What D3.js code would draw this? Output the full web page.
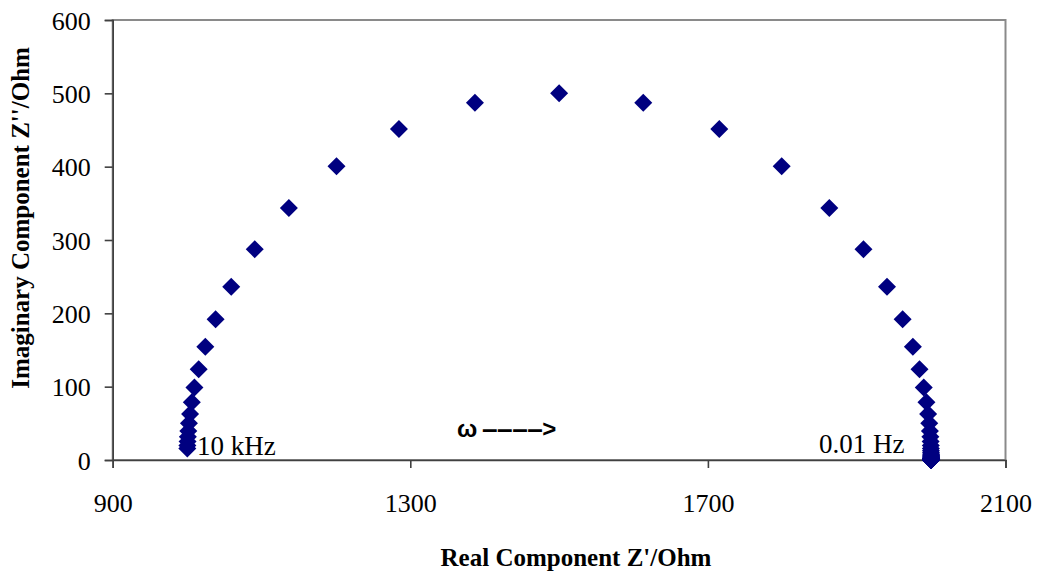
<!DOCTYPE html>
<html>
    <head>
        <meta charset="utf-8">
        <title>Nyquist Plot</title>
        <script src="https://cdn.jsdelivr.net/npm/d3@7"></script>
        <style>
            body { margin: 0; background: #fff; }
            text { font-family: "Liberation Serif", "Times New Roman", serif; }
        </style>
    </head>
    <body>
        <script>
            // real / imaginary impedance (10 kHz -> 0.01 Hz)
            var zReal = [1000.3, 1000.4, 1000.6, 1001.0, 1001.6, 1002.5, 1004.0, 1006.3, 1009.9, 1015.6,
                         1024.5, 1038.3, 1059.3, 1090.9, 1136.8, 1200.8, 1284.7, 1386.9, 1500.0,
                         1613.1, 1715.3, 1799.2, 1863.2, 1909.1, 1940.7, 1961.7, 1975.5, 1984.4, 1990.1,
                         1993.7, 1996.0, 1997.5, 1998.4, 1999.0, 1999.4, 1999.6, 1999.7, 1999.8, 1999.9,
                         2000, 2000, 2000, 2000, 2000, 2000, 2000, 2000, 2000, 2000,
                         2000, 2000, 2000, 2000, 2000, 2000, 2000, 2000, 2000, 2000, 2000, 2000];
            var zImag = [15.8, 19.9, 25.1, 31.6, 39.7, 50.0, 62.8, 78.9, 99.0, 123.9,
                         154.6, 191.9, 236.3, 287.5, 343.6, 400.5, 451.3, 487.0, 500.0,
                         487.0, 451.3, 400.5, 343.6, 287.5, 236.3, 191.9, 154.6, 123.9, 99.0,
                         78.9, 62.8, 50.0, 39.7, 31.6, 25.1, 19.9, 15.8, 12.6, 10.0,
                         7.9, 6.3, 5.0, 4.0, 3.2, 2.5, 2.0, 1.6, 1.3, 1.0,
                         0.8, 0.6, 0.5, 0.4, 0.3, 0.25, 0.2, 0.16, 0.13, 0.1, 0.08, 0.06];
            var xTicks = [900, 1300, 1700, 2100];
            var yTicks = [0, 100, 200, 300, 400, 500, 600];

            var points = zReal.map(function(r, i){ return { re: r, im: zImag[i] }; });

            var W = 1039, H = 572,
                plotL = 112.7, plotR = 1005.5, plotT = 20, plotB = 460;

            var x = d3.scaleLinear().domain([900, 2100]).range([plotL, plotR]);
            var y = d3.scaleLinear().domain([0, 600]).range([plotB, plotT]);

            var svg = d3.select("body")
                .append("svg")
                .attr("width", W)
                .attr("height", H);

            // plot area border
            svg.append("rect")
                .attr("x", plotL).attr("y", plotT)
                .attr("width", plotR - plotL).attr("height", plotB - plotT)
                .attr("fill", "none")
                .attr("stroke", "#8a8a8a")
                .attr("stroke-width", 2);

            var xAxis = svg.append("g")
                .attr("transform", "translate(0," + plotB + ")")
                .call(d3.axisBottom(x).tickValues(xTicks).tickSize(8).tickFormat(d3.format("d")));
            xAxis.selectAll("text")
                .attr("y", 52).attr("dy", 0)
                .attr("font-size", 26).attr("fill", "#000")
                .style("font-family", "'Liberation Serif', serif");

            var yAxis = svg.append("g")
                .attr("transform", "translate(" + plotL + ",0)")
                .call(d3.axisLeft(y).tickValues(yTicks).tickSize(8).tickFormat(d3.format("d")));
            yAxis.selectAll("text")
                .attr("x", -22).attr("dy", "0.35em")
                .attr("font-size", 26).attr("fill", "#000")
                .style("font-family", "'Liberation Serif', serif");

            svg.selectAll(".domain, .tick line")
                .attr("stroke", "#404040")
                .attr("stroke-width", 1.6);

            // diamonds
            var diamond = d3.symbol().type(d3.symbolSquare).size(162);
            svg.append("g")
                .selectAll("path")
                .data(points)
                .enter()
                .append("path")
                .attr("d", diamond)
                .attr("transform", function(d){ return "translate(" + x(d.re) + "," + y(d.im) + ") rotate(45)"; })
                .attr("fill", "#000080");

            // annotations
            svg.append("text")
                .attr("x", 197).attr("y", 455)
                .attr("font-size", 27)
                .text("10 kHz");
            svg.append("text")
                .attr("x", 819).attr("y", 453)
                .attr("font-size", 27)
                .text("0.01 Hz");

            var omega = svg.append("text")
                .attr("y", 437)
                .attr("font-size", 24)
                .attr("font-weight", "bold")
                .style("font-family", "'Liberation Sans', Arial, sans-serif");
            omega.append("tspan").attr("x", 457).text("ω");
            omega.append("tspan").attr("x", 482).attr("font-size", 28).attr("dy", 1).attr("letter-spacing", -0.5).text("––––");
            omega.append("tspan").attr("dy", -1).text(">");

            // axis titles
            svg.append("text")
                .attr("x", 576).attr("y", 566)
                .attr("text-anchor", "middle")
                .attr("font-size", 25)
                .attr("font-weight", "bold")
                .text("Real Component Z'/Ohm");
            svg.append("text")
                .attr("transform", "translate(29,218) rotate(-90)")
                .attr("text-anchor", "middle")
                .attr("font-size", 25)
                .attr("font-weight", "bold")
                .text("Imaginary Component Z''/Ohm");
        </script>
    </body>
</html>
